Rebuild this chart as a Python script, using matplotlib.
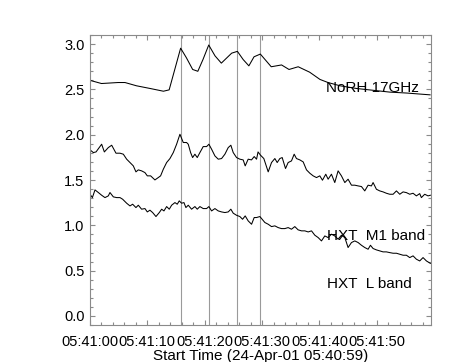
import matplotlib
matplotlib.use("Agg")
import matplotlib.pyplot as plt
from matplotlib.ticker import MultipleLocator

plt.rcParams['font.family'] = ['Liberation Sans', 'DejaVu Sans']

# seconds after 05:41:00
norh_t = [0, 2.0, 4.9, 6.1, 8.1, 10.5, 12.8, 13.8, 15.8, 16.8, 17.9, 18.8, 19.7, 20.7,
          21.8, 22.9, 24.7, 25.7, 26.7, 27.7, 28.6, 29.7, 31.6, 33.4, 34.7, 36.3, 38.3,
          40.1, 41.5, 43.6, 46.5, 49.4, 52.3, 55.2, 59.3]
norh_v = [2.60, 2.565, 2.576, 2.576, 2.54, 2.51, 2.48, 2.495, 2.955, 2.85, 2.72, 2.70,
          2.83, 2.99, 2.87, 2.79, 2.90, 2.92, 2.83, 2.76, 2.86, 2.89, 2.75, 2.77, 2.72,
          2.75, 2.69, 2.61, 2.576, 2.54, 2.51, 2.49, 2.47, 2.46, 2.44]

m1_t = [0, 0.58, 1.05, 2.03, 2.50, 3.19, 3.78, 4.53, 5.23, 5.81, 6.39, 6.97, 7.55, 8.01,
        8.42, 9.0, 9.58, 9.99, 10.57, 11.32, 11.9, 12.31, 12.78, 13.36, 13.94, 14.52,
        15.1, 15.68, 16.26, 16.84, 17.13, 17.54, 17.89, 18.29, 18.7, 19.16, 19.74, 20.33,
        20.73, 21.2, 21.78, 22.36, 22.94, 23.52, 24.1, 24.56, 24.97, 25.55, 26.13, 26.71,
        27.06, 27.58, 28.16, 28.63, 29.04, 29.3, 29.73, 30.31, 31.07, 31.65, 32.23, 32.64,
        33.1, 33.51, 34.09, 34.55, 35.13, 35.6, 36.0, 36.59, 37.17, 37.75, 38.33, 38.91,
        39.49, 40.07, 40.53, 41.11, 41.52, 42.1, 42.68, 43.26, 43.84, 44.43, 45.0, 45.59,
        46.17, 46.75, 47.33, 47.91, 48.49, 49.07, 49.36, 49.94, 50.52, 51.1, 51.68, 52.26,
        52.85, 53.43, 54.01, 54.59, 55.17, 55.75, 56.33, 56.91, 57.49, 57.78, 58.36,
        58.94, 59.35]
m1_v = [1.833, 1.803, 1.810, 1.895, 1.810, 1.858, 1.884, 1.796, 1.796, 1.785, 1.730,
        1.693, 1.656, 1.590, 1.612, 1.601, 1.582, 1.546, 1.546, 1.501, 1.527, 1.546,
        1.619, 1.693, 1.737, 1.803, 1.895, 2.005, 1.914, 1.914, 1.895, 1.803, 1.748,
        1.785, 1.748, 1.803, 1.869, 1.869, 1.895, 1.840, 1.766, 1.730, 1.737, 1.785,
        1.858, 1.884, 1.803, 1.748, 1.730, 1.722, 1.656, 1.730, 1.722, 1.759, 1.730,
        1.810, 1.774, 1.737, 1.590, 1.693, 1.737, 1.693, 1.737, 1.748, 1.627, 1.693,
        1.711, 1.785, 1.737, 1.722, 1.700, 1.612, 1.575, 1.546, 1.527, 1.546, 1.498,
        1.564, 1.509, 1.564, 1.472, 1.601, 1.546, 1.472, 1.509, 1.443, 1.443, 1.435,
        1.428, 1.380, 1.443, 1.435, 1.472, 1.398, 1.380, 1.369, 1.354, 1.343, 1.343,
        1.380, 1.343, 1.369, 1.361, 1.343, 1.354, 1.325, 1.350, 1.306, 1.343, 1.325,
        1.332]

l_t = [0, 0.41, 0.87, 1.45, 2.03, 2.61, 3.19, 3.48, 4.07, 4.65, 5.23, 5.69, 6.39, 6.97,
       7.43, 8.01, 8.42, 9.0, 9.58, 9.99, 10.45, 10.92, 11.5, 12.08, 12.49, 12.89, 13.36,
       13.82, 14.23, 14.81, 15.21, 15.56, 15.97, 16.38, 16.72, 17.13, 17.71, 18.29, 18.7,
       19.16, 19.74, 20.33, 20.73, 21.2, 21.78, 22.36, 22.94, 23.52, 24.1, 24.56, 24.97,
       25.55, 26.13, 26.6, 27.06, 27.58, 28.17, 28.63, 29.04, 29.62, 29.91, 30.49, 31.07,
       31.65, 32.23, 32.81, 33.39, 33.97, 34.55, 35.13, 35.71, 36.29, 36.88, 37.46, 38.04,
       38.62, 39.2, 39.78, 40.36, 40.94, 41.52, 42.1, 42.68, 43.26, 43.84, 44.43, 45.0,
       45.59, 46.17, 46.75, 47.33, 47.91, 48.49, 48.9, 49.36, 49.94, 50.52, 51.1, 51.68,
       52.26, 52.85, 53.43, 54.01, 54.59, 55.17, 55.75, 56.33, 56.91, 57.49, 58.07, 58.66,
       59.35]
l_v = [1.343, 1.306, 1.391, 1.362, 1.332, 1.306, 1.325, 1.362, 1.314, 1.306, 1.306,
       1.288, 1.244, 1.214, 1.233, 1.196, 1.222, 1.178, 1.185, 1.148, 1.167, 1.141,
       1.097, 1.141, 1.178, 1.159, 1.207, 1.178, 1.222, 1.251, 1.233, 1.270, 1.244,
       1.251, 1.196, 1.222, 1.178, 1.207, 1.178, 1.207, 1.185, 1.185, 1.207, 1.159,
       1.185, 1.159, 1.148, 1.141, 1.148, 1.178, 1.134, 1.111, 1.097, 1.067, 1.104,
       1.049, 1.012, 1.086, 1.086, 1.097, 1.075, 1.031, 1.012, 0.986, 0.994, 0.975,
       0.964, 0.964, 0.975, 0.957, 0.986, 0.950, 0.939, 0.939, 0.927, 0.939, 0.891,
       0.865, 0.828, 0.883, 0.865, 0.902, 0.883, 0.847, 0.891, 0.865, 0.755, 0.810,
       0.828, 0.810, 0.780, 0.755, 0.736, 0.780, 0.744, 0.729, 0.718, 0.707, 0.707,
       0.699, 0.692, 0.692, 0.681, 0.670, 0.670, 0.644, 0.663, 0.626, 0.607, 0.644,
       0.607, 0.58]

marker_times = [15.8, 20.7, 25.7, 29.7]

xtick_pos = [0, 10, 20, 30, 40, 50]
xtick_labels = ['05:41:00', '05:41:10', '05:41:20', '05:41:30', '05:41:40', '05:41:50']

labels = ['NoRH 17GHz', 'HXT  M1 band', 'HXT  L band']
label_pos = [(41.1, 2.52), (41.3, 0.88), (41.3, 0.35)]

fig = plt.figure(figsize=(4.53, 3.62), dpi=100)
ax = fig.add_axes([0.1987, 0.1022, 0.752, 0.801])

axcol = '#8a8a8a'
for t in marker_times:
    ax.axvline(t, color='#9a9a9a', lw=0.8, zorder=1)

ax.plot(norh_t, norh_v, color='black', lw=0.75)
ax.plot(m1_t, m1_v, color='black', lw=0.75)
ax.plot(l_t, l_v, color='black', lw=0.75)

for txt, (x, y) in zip(labels, label_pos):
    ax.text(x, y, txt, fontsize=11, va='center', ha='left')

ax.set_xlim(0, 59.4)
ax.set_ylim(-0.1, 3.1)
ax.set_xticks(xtick_pos)
ax.set_xticklabels(xtick_labels)
ax.xaxis.set_minor_locator(MultipleLocator(2))
ax.yaxis.set_major_locator(MultipleLocator(0.5))
ax.yaxis.set_minor_locator(MultipleLocator(0.1))
ax.yaxis.set_major_formatter(plt.FormatStrFormatter('%.1f'))

ax.tick_params(which='both', direction='in', top=True, right=True, color=axcol, width=0.8)
ax.tick_params(which='major', length=3.6, labelsize=10.5)
ax.tick_params(which='minor', length=2.2)
ax.tick_params(axis='x', which='major', pad=7)
ax.tick_params(axis='y', which='major', pad=4)
for s in ax.spines.values():
    s.set_color(axcol)
    s.set_linewidth(0.8)

ax.set_xlabel('Start Time (24-Apr-01 05:40:59)', fontsize=11, labelpad=0)

fig.savefig('out.png', dpi=100)
